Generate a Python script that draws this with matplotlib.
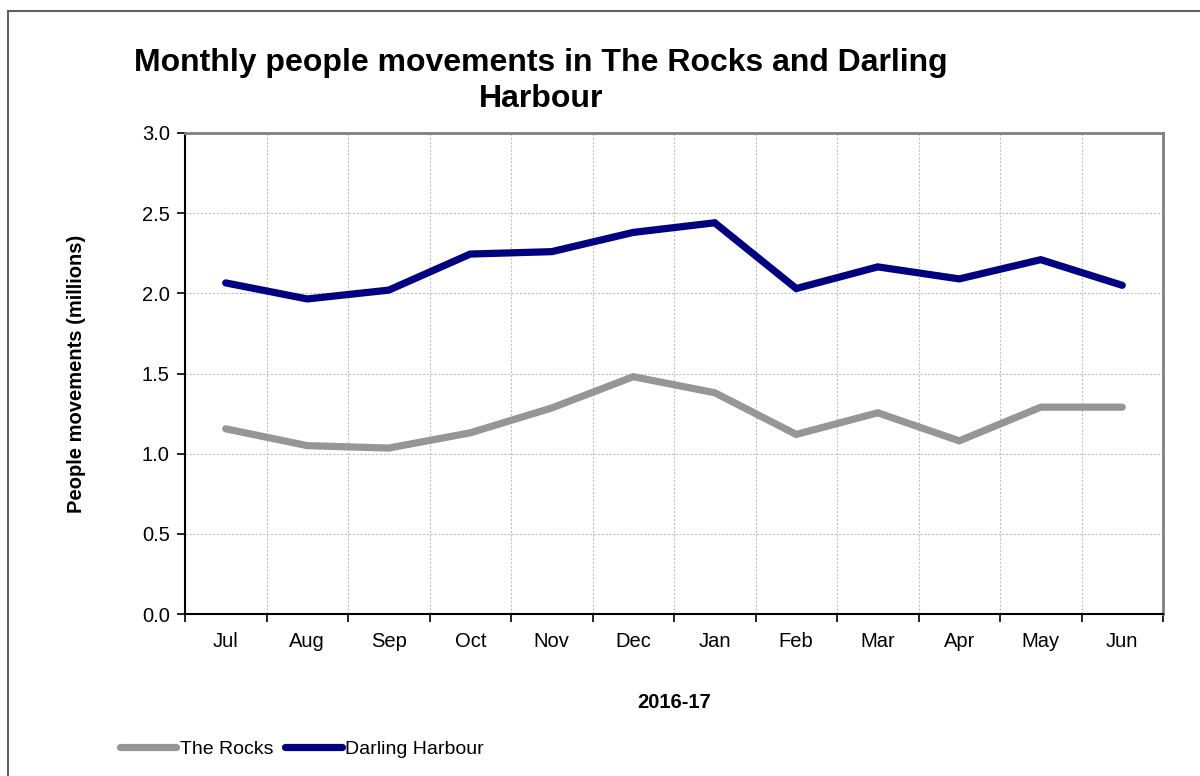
import matplotlib.pyplot as plt
from matplotlib.patches import Rectangle
from matplotlib.lines import Line2D

plt.rcParams["font.family"] = ["Liberation Sans", "DejaVu Sans"]

months = ["Jul", "Aug", "Sep", "Oct", "Nov", "Dec",
          "Jan", "Feb", "Mar", "Apr", "May", "Jun"]
the_rocks = [1.155, 1.05, 1.035, 1.13, 1.285, 1.48,
             1.38, 1.12, 1.255, 1.08, 1.29, 1.29]
darling_harbour = [2.065, 1.965, 2.02, 2.245, 2.26, 2.38,
                   2.44, 2.03, 2.165, 2.09, 2.21, 2.05]
y_ticks = [0.0, 0.5, 1.0, 1.5, 2.0, 2.5, 3.0]

fig = plt.figure(figsize=(12, 7.76), dpi=100)
fig.patches.append(Rectangle((8 / 1200, -0.1), 1.2, 1 - 11 / 776 + 0.1,
                             transform=fig.transFigure, fill=False,
                             edgecolor="#606060", linewidth=1.5))

ax = fig.add_axes([185 / 1200, 1 - 614 / 776, (1163 - 185) / 1200, (614 - 133) / 776])

x = range(len(months))
ax.plot(x, the_rocks, color="#969696", linewidth=5.2, solid_capstyle="round",
        solid_joinstyle="miter", label="The Rocks", zorder=3)
ax.plot(x, darling_harbour, color="#000080", linewidth=5.2, solid_capstyle="round",
        solid_joinstyle="miter", label="Darling Harbour", zorder=3)

ax.set_xlim(-0.5, len(months) - 0.5)
ax.set_ylim(0, 3.0)
ax.set_yticks(y_ticks)
ax.set_yticklabels([f"{v:.1f}" for v in y_ticks], fontsize=14.5)
ax.set_xticks([i - 0.5 for i in range(len(months) + 1)])
ax.set_xticklabels([])
ax.set_xticks(list(x), minor=True)
ax.set_xticklabels(months, minor=True, fontsize=14.5)
ax.tick_params(axis="x", which="minor", length=0, pad=13)
ax.tick_params(axis="x", which="major", length=6, width=1.2, direction="out")
ax.tick_params(axis="y", length=6, width=1.2, direction="out", pad=5)

ax.grid(True, which="major", color="#c0c0c0", linestyle=(0, (2, 1.5)), linewidth=0.8)
ax.set_axisbelow(True)

for side in ["top", "right"]:
    ax.spines[side].set_color("#808080")
    ax.spines[side].set_linewidth(2)
for side in ["left", "bottom"]:
    ax.spines[side].set_color("black")
    ax.spines[side].set_linewidth(1.5)

ax.set_ylabel("People movements (millions)", fontsize=14.5, fontweight="bold", labelpad=40)
ax.set_xlabel("2016-17", fontsize=14.5, fontweight="bold", labelpad=30)

fig.text(541 / 1200, 1 - 81 / 776, "Monthly people movements in The Rocks and Darling\nHarbour",
         ha="center", va="center", fontsize=23, fontweight="bold", linespacing=1.3)

handles = [Line2D([], [], color="#969696", linewidth=5.2, solid_capstyle="round"),
           Line2D([], [], color="#000080", linewidth=5.2, solid_capstyle="round")]
fig.legend(handles, ["The Rocks", "Darling Harbour"], loc="center left",
           bbox_to_anchor=(112 / 1200, 1 - 749 / 776), ncol=2, frameon=False,
           fontsize=14, handlelength=2.9, handletextpad=0.2, columnspacing=0.6,
           borderaxespad=0)

fig.savefig("out.png", dpi=100)
